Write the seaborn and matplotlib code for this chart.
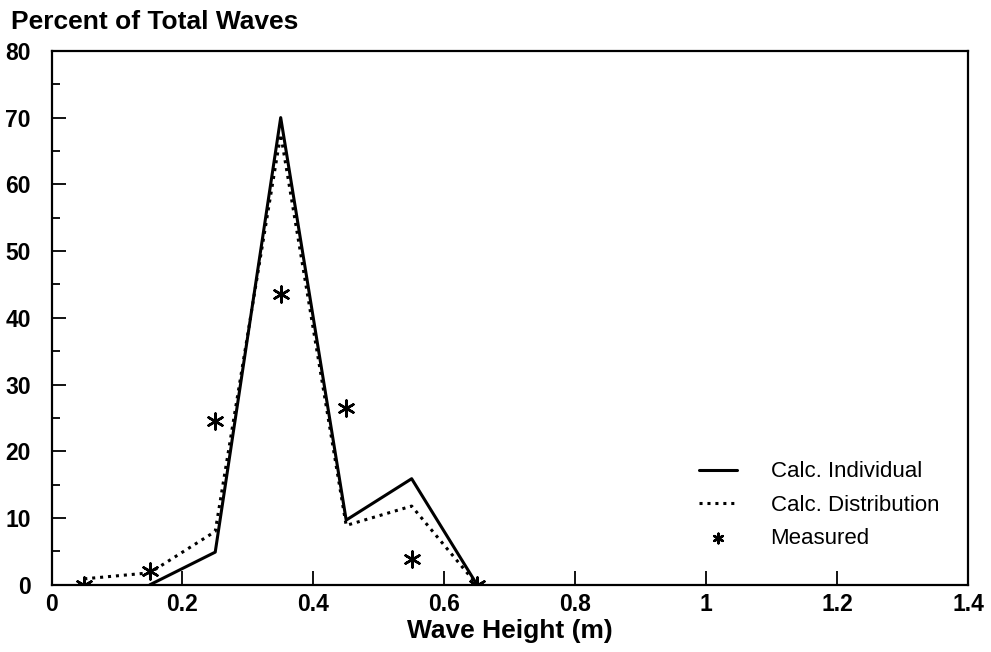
import matplotlib
matplotlib.use("Agg")
import matplotlib.pyplot as plt
from matplotlib.ticker import MultipleLocator
import seaborn as sns
import pandas as pd

heights = [0.05, 0.15, 0.25, 0.35, 0.45, 0.55, 0.65]
calc_individual = [None, 0.0, 4.9, 70.0, 9.7, 15.9, 0.0]
calc_distribution = [0.9, 1.8, 8.0, 67.5, 8.9, 11.8, 0.0]
measured = [0.0, 2.0, 24.6, 43.6, 26.5, 3.9, 0.0]

sns.set_theme(style="ticks")
plt.rcParams['font.family'] = ['Liberation Sans', 'DejaVu Sans']
plt.rcParams['text.color'] = 'black'
plt.rcParams['xtick.color'] = 'black'
plt.rcParams['ytick.color'] = 'black'
plt.rcParams['axes.labelcolor'] = 'black'

fig = plt.figure(figsize=(9.91, 6.52), dpi=100)
ax = fig.add_axes([0.052, 0.103, 0.925, 0.819])

df_ind = pd.DataFrame({"x": heights, "y": calc_individual}).dropna()
df_dist = pd.DataFrame({"x": heights, "y": calc_distribution})
df_meas = pd.DataFrame({"x": heights, "y": measured})

sns.lineplot(data=df_ind, x="x", y="y", ax=ax, color="black", linewidth=2.2,
             label="Calc. Individual")
sns.lineplot(data=df_dist, x="x", y="y", ax=ax, color="black", linewidth=2.2,
             linestyle=(0, (1, 1.6)), label="Calc. Distribution")
sns.scatterplot(data=df_meas, x="x", y="y", ax=ax, color="black", marker=(6, 2, 0),
                s=130, linewidth=1.8, label="Measured", zorder=5)

ax.set_xlim(0, 1.4)
ax.set_ylim(0, 80)
ax.yaxis.set_major_locator(MultipleLocator(10))
ax.yaxis.set_minor_locator(MultipleLocator(5))
ax.set_xticks([0, 0.2, 0.4, 0.6, 0.8, 1.0, 1.2, 1.4])
ax.set_xticklabels(["0", "0.2", "0.4", "0.6", "0.8", "1", "1.2", "1.4"])
ax.tick_params(axis="both", which="major", direction="in", length=10, width=1.3,
               labelsize=16.5, pad=6)
ax.tick_params(axis="y", which="major", pad=15)
ax.tick_params(axis="y", which="minor", direction="in", length=6, width=1.3)
for lbl in ax.get_xticklabels() + ax.get_yticklabels():
    lbl.set_fontweight("bold")
for s in ax.spines.values():
    s.set_linewidth(1.6)
    s.set_color("black")
    s.set_visible(True)

ax.set_xlabel("Wave Height (m)", fontsize=19, fontweight="bold", labelpad=2)
ax.set_ylabel("")
fig.text(0.011, 0.967, "Percent of Total Waves", fontsize=19, fontweight="bold",
         ha="left", va="center")

leg = ax.legend(loc="lower right", bbox_to_anchor=(0.99, 0.03), frameon=False,
                fontsize=16, handlelength=1.7, labelspacing=0.55, handletextpad=1.5,
                markerscale=0.6)

fig.savefig("out.png", dpi=100)
